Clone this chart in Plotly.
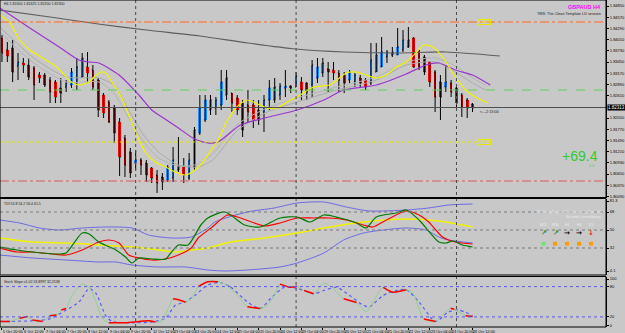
import plotly.graph_objects as go

# ---------------- price data (GBPAUD H4, bar index 0 = 5 Oct 20:00) ----------------
bar_index = list(range(89))
opens = [1.8405, 1.8375, 1.838, 1.8335, 1.83425, 1.83375, 1.833, 1.83125, 1.83125, 1.83,
         1.8295, 1.828, 1.82825, 1.82875, 1.82925, 1.83075, 1.83325, 1.8325, 1.83, 1.82625,
         1.8245, 1.823, 1.8195, 1.8155, 1.812, 1.80925, 1.81, 1.80925, 1.808, 1.80625,
         1.80575, 1.805, 1.8055, 1.8075, 1.80825, 1.8055, 1.80825, 1.81675, 1.82, 1.8225,
         1.823, 1.82375, 1.82625, 1.82675, 1.8255, 1.82425, 1.82375, 1.82375, 1.8225, 1.822,
         1.825, 1.825, 1.82625, 1.828, 1.8285, 1.82825, 1.8295, 1.82925, 1.82875, 1.8305,
         1.83175, 1.83275, 1.8325, 1.83175, 1.83125, 1.83, 1.8295, 1.8305, 1.83, 1.82925,
         1.832, 1.83325, 1.83575, 1.83625, 1.83625, 1.8375, 1.83825, 1.8405, 1.8375, 1.83575,
         1.8345, 1.832, 1.8295, 1.82825, 1.82925, 1.828, 1.82625, 1.825, 1.824]
highs = [1.84125, 1.8395, 1.84, 1.83675, 1.8355, 1.8355, 1.8335, 1.832, 1.83175, 1.83075,
         1.83, 1.8305, 1.83, 1.833, 1.8355, 1.83675, 1.837, 1.83375, 1.8305, 1.82675,
         1.825, 1.82375, 1.8205, 1.81625, 1.813, 1.8125, 1.8105, 1.81, 1.80825, 1.8075,
         1.80675, 1.80875, 1.81325, 1.81575, 1.8105, 1.81175, 1.81825, 1.82625, 1.82625, 1.82625,
         1.82575, 1.8325, 1.8325, 1.82675, 1.82625, 1.825, 1.8275, 1.825, 1.825, 1.82625,
         1.83, 1.8305, 1.82925, 1.8325, 1.82875, 1.832, 1.83075, 1.8295, 1.835, 1.8355,
         1.8355, 1.8345, 1.8345, 1.8325, 1.832, 1.8325, 1.83175, 1.83125, 1.8305, 1.83925,
         1.83925, 1.84075, 1.8375, 1.83825, 1.843, 1.8425, 1.84325, 1.84075, 1.8375, 1.83625,
         1.8345, 1.8325, 1.83125, 1.83375, 1.83, 1.82825, 1.82675, 1.8255, 1.82425]
lows = [1.8345, 1.8345, 1.8295, 1.83, 1.83175, 1.83, 1.825, 1.82925, 1.82825, 1.82425,
        1.82425, 1.82425, 1.827, 1.828, 1.8275, 1.8305, 1.82925, 1.8275, 1.82075, 1.8205,
        1.81925, 1.81425, 1.806, 1.80575, 1.8055, 1.8075, 1.80625, 1.8045, 1.80425, 1.80175,
        1.8025, 1.8045, 1.8045, 1.807, 1.80425, 1.805, 1.8075, 1.81625, 1.8195, 1.82125,
        1.82125, 1.8225, 1.825, 1.822, 1.82125, 1.81575, 1.81925, 1.818, 1.81875, 1.817,
        1.8225, 1.82425, 1.825, 1.82575, 1.82675, 1.82825, 1.825, 1.825, 1.82575, 1.82925,
        1.83075, 1.827, 1.83, 1.827, 1.82675, 1.82925, 1.82825, 1.828, 1.8275, 1.82875,
        1.832, 1.83325, 1.83425, 1.83575, 1.83625, 1.837, 1.838, 1.833, 1.8325, 1.83125,
        1.82825, 1.822, 1.82, 1.827, 1.82575, 1.8225, 1.82075, 1.8205, 1.822]
closes = [1.83675, 1.836, 1.832, 1.8345, 1.83375, 1.83075, 1.82875, 1.8305, 1.82875, 1.827,
          1.82575, 1.82675, 1.82925, 1.832, 1.83325, 1.8355, 1.83175, 1.82825, 1.8225, 1.82175,
          1.8195, 1.81675, 1.81075, 1.80875, 1.80675, 1.81, 1.80875, 1.80625, 1.8055, 1.80425,
          1.8045, 1.808, 1.81, 1.8085, 1.80625, 1.81, 1.8175, 1.823, 1.825, 1.825,
          1.825, 1.8295, 1.8305, 1.82425, 1.8225, 1.8175, 1.822, 1.82, 1.82, 1.825,
          1.828, 1.82825, 1.8285, 1.8285, 1.828, 1.831, 1.8275, 1.827, 1.83375, 1.83325,
          1.83425, 1.832, 1.83175, 1.83, 1.82925, 1.832, 1.83125, 1.82925, 1.82825, 1.835,
          1.83625, 1.837, 1.837, 1.837, 1.83825, 1.84, 1.84, 1.83325, 1.83325, 1.832,
          1.8295, 1.82575, 1.82575, 1.8295, 1.827, 1.82425, 1.82325, 1.823, 1.823]

date_label_index = list(range(0, 89, 4))
date_labels = ["5 Oct 20:00", "6 Oct 12:00", "7 Oct 04:00", "7 Oct 20:00", "8 Oct 12:00",
               "9 Oct 04:00", "9 Oct 20:00", "12 Oct 12:00", "13 Oct 04:00", "13 Oct 20:00",
               "14 Oct 12:00", "15 Oct 04:00", "15 Oct 20:00", "16 Oct 12:00", "19 Oct 04:00",
               "19 Oct 20:00", "20 Oct 12:00", "21 Oct 04:00", "21 Oct 20:00", "22 Oct 12:00",
               "23 Oct 04:00", "23 Oct 20:00", "26 Oct 12:00"]
week_start_index = [25, 55, 85]

price_ticks = [1.8485, 1.8457, 1.8429, 1.8401, 1.8373, 1.8345, 1.8317, 1.8289, 1.8261,
               1.8205, 1.8177, 1.8149, 1.8121, 1.8093, 1.8065, 1.8037, 1.8009]

# moving averages (bar index, price)
ma_slow = [(-0.4, 1.8475), (9, 1.84575), (18, 1.844), (27, 1.8425), (37, 1.841), (46, 1.83925),
           (55, 1.83775), (64, 1.837), (74, 1.83675), (83, 1.837), (93.1, 1.836)]
ma_mid = [(-0.4, 1.848), (5.2, 1.843), (10.7, 1.83825), (14.4, 1.835), (16.3, 1.8345), (18.1, 1.83425),
          (21.9, 1.83125), (25.6, 1.82625), (28.0, 1.8225), (30.2, 1.8205), (33.0, 1.818), (35.7, 1.8155),
          (38.5, 1.81425), (40.4, 1.8145), (44.6, 1.81875), (49.1, 1.8205), (55.2, 1.8225), (60.2, 1.825),
          (63.9, 1.8275), (70.0, 1.82875), (75.6, 1.8315), (79.3, 1.83375), (81.7, 1.83425),
          (84.8, 1.8325), (88.0, 1.83125), (91.3, 1.82875)]
ma_fast = [(-0.4, 1.84625), (1.5, 1.84425), (3.3, 1.84), (5.2, 1.8375), (7.6, 1.8355), (10.2, 1.83325),
           (11.7, 1.83125), (13.0, 1.8295), (14.4, 1.82875), (16.3, 1.8295), (17.6, 1.83125), (18.5, 1.832),
           (19.4, 1.83175), (20.9, 1.82875), (22.4, 1.8255), (23.7, 1.82125), (25.0, 1.817), (26.9, 1.81175),
           (28.7, 1.8095), (30.6, 1.80825), (32.4, 1.807), (34.3, 1.80625), (36.1, 1.8075), (37.6, 1.8095),
           (38.9, 1.812), (40.4, 1.815), (42.2, 1.82), (44.1, 1.8235), (45.9, 1.825), (47.8, 1.824),
           (49.6, 1.823), (51.5, 1.823), (53.3, 1.8245), (55.2, 1.82575), (58.3, 1.82825), (61.3, 1.82875),
           (64.4, 1.83175), (66.3, 1.832), (68.1, 1.83125), (70.0, 1.8305), (71.9, 1.83125), (73.7, 1.83325),
           (75.6, 1.8345), (77.4, 1.83675), (78.9, 1.83875), (80.6, 1.83825), (82.4, 1.83575),
           (84.8, 1.83075), (86.7, 1.8275), (88.5, 1.82575), (90.9, 1.82425)]
band_a = [(-0.4, 1.84325), (5.7, 1.83575), (12.0, 1.83075), (18.1, 1.8305), (20.9, 1.82875), (23.7, 1.8225),
          (26.5, 1.81625), (29.3, 1.812), (33.0, 1.80875), (36.7, 1.80825), (39.4, 1.81), (44.1, 1.8175),
          (49.6, 1.822), (55.2, 1.8245), (62.6, 1.8275), (70.0, 1.83), (75.6, 1.83375), (81.1, 1.8345),
          (84.8, 1.832), (88.0, 1.82925), (90.4, 1.8275)]
band_b = [(-0.4, 1.842), (5.7, 1.8345), (12.0, 1.8295), (18.1, 1.8295), (20.9, 1.82675), (23.7, 1.8205),
          (26.5, 1.8145), (29.3, 1.8105), (33.0, 1.8085), (36.7, 1.809), (39.4, 1.8115), (44.1, 1.819),
          (49.6, 1.823), (55.2, 1.8255), (62.6, 1.82825), (70.0, 1.83075), (75.6, 1.8345), (81.1, 1.8355),
          (84.8, 1.8335), (88.0, 1.8305), (90.4, 1.82875)]

# horizontal levels
resistance_level = 1.8445
pivot_level = 1.8275
bid_price = 1.823125
support_level = 1.8145
low_level = 1.80475

# TDI (bar index, value)
tdi_upper = [(-0.4, 60), (3.3, 57), (7.0, 52), (10.7, 50), (15.0, 52), (19.4, 53), (24.3, 52), (27.4, 45),
             (31.7, 42), (35.4, 43), (38.5, 52), (39.8, 58), (45.9, 68), (50.9, 72), (55.2, 77), (60.2, 78),
             (64.4, 73), (68.7, 69), (75.6, 70), (79.8, 72), (83.5, 75), (88.0, 76)]
tdi_lower = [(-0.4, 25), (5.7, 22), (12.0, 20), (18.1, 18), (21.3, 18), (24.3, 15), (29.3, 13), (34.3, 13),
             (38.5, 10), (41.7, 9), (45.9, 10), (52.0, 13), (55.2, 17), (60.2, 27), (63.9, 40), (67.6, 47),
             (71.3, 50), (75.6, 52), (79.3, 50), (81.7, 43), (83.5, 40), (88.0, 37)]
tdi_base = [(-0.4, 42), (5.7, 38), (12.0, 37), (18.1, 35), (24.3, 33), (29.3, 30), (32.4, 28), (35.4, 30),
            (38.5, 32), (42.8, 38), (49.1, 42), (55.2, 47), (61.3, 53), (67.6, 58), (75.6, 61), (81.7, 59),
            (88.0, 53)]
tdi_signal = [(-0.4, 32), (2.8, 28), (5.7, 28), (9.4, 26), (12.0, 25), (15.0, 30), (18.1, 38), (20.0, 40),
              (21.9, 37), (23.7, 25), (25.6, 22), (28.0, 20), (30.6, 21), (33.0, 25), (35.4, 32), (36.7, 42),
              (39.1, 52), (42.2, 65), (44.6, 62), (49.1, 54), (52.0, 57), (55.2, 62), (58.3, 62), (61.3, 62),
              (64.4, 60), (67.6, 55), (69.4, 53), (71.9, 60), (75.6, 69), (78.0, 65), (79.8, 58), (82.4, 43),
              (84.8, 38), (88.0, 36)]
tdi_rsi = [(-0.4, 33), (2.8, 30), (5.7, 28), (10.7, 26), (12.0, 27), (15.0, 47), (16.3, 46), (18.1, 38),
           (21.3, 30), (23.1, 23), (24.3, 17), (25.6, 22), (28.0, 21), (30.6, 21), (31.7, 28), (33.0, 35),
           (34.8, 35), (37.2, 55), (38.5, 62), (41.7, 68), (45.4, 55), (48.3, 53), (52.0, 62), (55.2, 63),
           (57.6, 58), (60.2, 65), (63.2, 62), (66.3, 57), (68.1, 52), (70.0, 63), (73.7, 67), (75.6, 70),
           (78.0, 60), (81.7, 38), (83.0, 37), (84.3, 39), (86.1, 35), (88.0, 33)]
tdi_levels = [68, 50, 32]

# Stoch slope (bar index, value)
stoch_main = [(-0.4, 11), (1.5, 11), (3.3, 17.5), (4.8, 20.6), (5.7, 14), (7.6, 11), (8.9, 22.5), (10.2, 24),
              (11.1, 33.6), (12.0, 36.8), (13.1, 62.6), (15.0, 85), (16.3, 78.7), (17.6, 49.6), (18.7, 18),
              (20.0, 8.4), (23.1, 8.4), (25.6, 11), (27.4, 12.3), (28.7, 9.8), (29.8, 11), (31.1, 36.8),
              (32.0, 56), (33.0, 54), (34.3, 49.6), (35.4, 56), (36.7, 80), (38.5, 89.7), (40.4, 89.7),
              (41.7, 85), (44.1, 62.6), (45.9, 40), (48.3, 36.8), (49.6, 43), (50.9, 62.6), (52.0, 85),
              (53.9, 78.7), (55.2, 80.6), (56.5, 72.3), (58.3, 66), (60.2, 87), (62.0, 75.5), (63.9, 56),
              (66.3, 48.5), (68.1, 30.3), (69.4, 49.6), (71.3, 78.7), (73.1, 69), (75.6, 73.6), (76.9, 66.5),
              (78.9, 16), (81.1, 11), (82.4, 24), (83.9, 37), (85.4, 30), (86.7, 22.5), (88.0, 20.6)]
stoch_signal = [(-0.4, 11), (5.7, 12.3), (8.9, 16), (12.0, 33.6), (14.4, 49.6), (16.3, 76), (17.6, 66),
                (19.4, 22.5), (20.6, 11), (24.3, 8.4), (28.0, 9.8), (30.6, 17.5), (32.4, 43), (34.3, 49.6),
                (36.1, 62.6), (38.5, 83), (40.9, 88), (42.8, 78.7), (45.9, 49.6), (48.3, 36.8), (50.2, 56),
                (52.8, 78.7), (55.2, 76.8), (58.3, 66), (60.2, 72.3), (62.6, 78.7), (65.0, 62.6), (67.6, 43),
                (68.7, 40), (71.3, 62.6), (73.7, 72.3), (75.6, 74), (78.0, 49.6), (81.1, 11), (83.5, 30),
                (85.4, 33.6), (88.0, 22.5)]
stoch_red_segments = [
    [(-0.4, 11), (1.5, 11)], [(3.3, 17.5), (4.8, 20.6)], [(5.7, 14), (7.6, 11)], [(8.9, 22.5), (10.2, 24)],
    [(11.1, 33.6), (12.0, 36.8)], [(20.0, 8.4), (23.1, 8.4), (25.6, 11), (27.4, 12.3), (28.7, 9.8)],
    [(32.0, 56), (33.0, 54), (34.3, 49.6)], [(36.7, 80), (38.5, 89.7), (40.4, 89.7)],
    [(45.9, 40), (48.3, 36.8)], [(52.0, 85), (53.9, 78.7), (55.2, 80.6)], [(56.5, 72.3), (58.3, 66)],
    [(63.9, 56), (66.3, 48.5)], [(71.3, 78.7), (73.1, 69), (75.6, 73.6)], [(78.9, 16), (81.1, 11)],
    [(83.9, 37), (84.6, 35)], [(86.7, 22.5), (88.0, 20.6)]]
stoch_levels = [80, 20]

tf_names = ["M15", "M30", "H1", "H4", "D1"]
tf_arrows = ["↗", "↗", "→", "→", "↓"]
tf_arrow_colors = ["#1d8a1d", "#1d8a1d", "#000000", "#000000", "#ff1010"]
tf_square_colors = ["#6fe36f", "#ff9a00", "#ff9a00", "#ff9a00", "#ff9a00"]

# ---------------- styling / layout helpers ----------------
BG = "#c8c8c8"
FONT = "Liberation Sans"
W_PLOT, H_PLOT = 612.0, 327.0


def px_x(x):
    return x / W_PLOT


def px_y(y):
    return (H_PLOT - y) / H_PLOT


def unzip(pairs):
    return [p[0] for p in pairs], [p[1] for p in pairs]


main_dom = [px_y(197.5), 1.0]
tdi_dom = [px_y(275), px_y(198.5)]
sto_dom = [0.0, px_y(276.5)]

fig = go.Figure()

# candle bodies (Heiken-Ashi style coloured bodies)
body_base = [min(o, c) for o, c in zip(opens, closes)]
body_h = [abs(c - o) for o, c in zip(opens, closes)]
body_col = ["#1e90ff" if c > o else "#ff0000" for o, c in zip(opens, closes)]


def add_line(pairs, color, width, axis, dash=None, smooth=True):
    x, y = unzip(pairs)
    line = dict(color=color, width=width)
    if dash:
        line["dash"] = dash
    if smooth:
        line["shape"] = "spline"
        line["smoothing"] = 0.7
    fig.add_trace(go.Scatter(x=x, y=y, mode="lines", line=line, yaxis=axis, hoverinfo="skip"))


add_line(band_b, "#b4b4b4", 1, "y")
add_line(band_a, "#aaaaaa", 1, "y")
add_line(ma_slow, "#5e5e5e", 1.2, "y")
add_line(ma_mid, "#9a36d0", 1.2, "y")
add_line(ma_fast, "#f2f200", 1.2, "y")

fig.add_trace(go.Bar(x=bar_index, base=body_base, y=body_h, width=0.5,
                     marker=dict(color=body_col, line=dict(width=0)), yaxis="y", hoverinfo="skip"))
fig.add_trace(go.Ohlc(x=bar_index, open=opens, high=highs, low=lows, close=closes,
                      increasing=dict(line=dict(color="#000000", width=1)),
                      decreasing=dict(line=dict(color="#000000", width=1)),
                      tickwidth=0.2, yaxis="y", hoverinfo="skip"))

# TDI
add_line(tdi_upper, "#6a6ae6", 1, "y2")
add_line(tdi_lower, "#6a6ae6", 1, "y2")
add_line(tdi_base, "#f2f200", 1.5, "y2")
add_line(tdi_signal, "#ff0000", 1.2, "y2")
add_line(tdi_rsi, "#007a00", 1.2, "y2")

# Stoch
add_line(stoch_signal, "#5a5af0", 1.2, "y3", dash="dot")
add_line(stoch_main, "#8fcf8f", 1, "y3")
for seg in stoch_red_segments:
    add_line(seg, "#ff0000", 1.5, "y3")

shapes = []
shapes.append(dict(type="line", xref="paper", x0=0, x1=1, yref="y", y0=resistance_level, y1=resistance_level,
                   line=dict(color="#ff6a1e", width=1, dash="dashdot")))
shapes.append(dict(type="line", xref="paper", x0=0, x1=1, yref="y", y0=pivot_level, y1=pivot_level,
                   line=dict(color="#5fcf5f", width=1, dash="dash")))
shapes.append(dict(type="line", xref="paper", x0=0, x1=1, yref="y", y0=bid_price, y1=bid_price,
                   line=dict(color="#4e4e4e", width=1)))
shapes.append(dict(type="line", xref="x", x0=-0.4, x1=88.9, yref="y", y0=support_level, y1=support_level,
                   line=dict(color="#e8e800", width=1, dash="dot")))
shapes.append(dict(type="line", xref="paper", x0=0, x1=1, yref="y", y0=low_level, y1=low_level,
                   line=dict(color="#d85c5c", width=1, dash="dashdot")))
for lv in tdi_levels:
    shapes.append(dict(type="line", xref="paper", x0=0, x1=1, yref="y2", y0=lv, y1=lv,
                       line=dict(color="#7a7a7a", width=1, dash="dot")))
for lv in stoch_levels:
    shapes.append(dict(type="line", xref="paper", x0=0, x1=1, yref="y3", y0=lv, y1=lv,
                       line=dict(color="#5a5af0", width=1, dash="dot")))
for wi in week_start_index:
    shapes.append(dict(type="line", xref="x", x0=wi, x1=wi, yref="paper", y0=0, y1=1,
                       line=dict(color="#4a4a4a", width=1, dash="dot")))
for dom in (main_dom, tdi_dom, sto_dom):
    shapes.append(dict(type="rect", xref="paper", x0=0, x1=1, yref="paper", y0=dom[0], y1=dom[1],
                       line=dict(color="#000000", width=1), layer="above"))

ann = []
for idx, lab in zip(date_label_index, date_labels):
    ann.append(dict(x=idx - 0.2, xref="x", y=0, yref="paper", yanchor="top", xanchor="left", yshift=-1,
                    text=lab, showarrow=False, font=dict(size=3.8, color="#000000", family=FONT)))

ann += [
    dict(x=px_x(2), y=px_y(0), xref="paper", yref="paper", xanchor="left", yanchor="top",
         text="H4 1.82400 1.82425 1.82200 1.82300", showarrow=False,
         font=dict(size=3.6, color="#1a1a1a", family=FONT)),
    dict(x=px_x(609), y=px_y(2), xref="paper", yref="paper", xanchor="right", yanchor="top",
         text="<b>GBPAUD H4</b>", showarrow=False, font=dict(size=5.5, color="#ff00ff", family=FONT)),
    dict(x=px_x(609), y=px_y(9.5), xref="paper", yref="paper", xanchor="right", yanchor="top",
         text="TMS: The Clean Template LD session", showarrow=False,
         font=dict(size=3.8, color="#202020", family=FONT)),
    dict(x=px_x(606), y=px_y(156), xref="paper", yref="paper", xanchor="right", yanchor="middle",
         text="+69.4", showarrow=False, font=dict(size=14, color="#2fcb2f", family=FONT)),
    dict(x=px_x(602), y=px_y(166), xref="paper", yref="paper", xanchor="right", yanchor="middle",
         text="0.0", showarrow=False, font=dict(size=3.8, color="#5cc85c", family=FONT)),
    dict(x=89, xref="x", y=bid_price - 0.001, yref="y", xanchor="left", yanchor="middle",
         text="<---2:13:04", showarrow=False, font=dict(size=3.8, color="#202020", family=FONT)),
    dict(x=88.9, xref="x", y=resistance_level, yref="y", xanchor="left", yanchor="middle",
         text="%.5f" % resistance_level, showarrow=False, bordercolor="#e8e800", borderwidth=1, borderpad=0,
         font=dict(size=3.3, color="#e8e800", family=FONT)),
    dict(x=88.9, xref="x", y=support_level, yref="y", xanchor="left", yanchor="middle",
         text="%.5f" % support_level, showarrow=False, bordercolor="#e8e800", borderwidth=1, borderpad=0,
         font=dict(size=3.3, color="#e8e800", family=FONT)),
    dict(x=1, xref="paper", y=bid_price, yref="y", xanchor="left", yanchor="middle", xshift=1,
         text="%.5f" % bid_price, showarrow=False, bgcolor="#000000", borderpad=0,
         font=dict(size=4.5, color="#ffffff", family=FONT)),
    dict(x=px_x(2), y=px_y(200), xref="paper", yref="paper", xanchor="left", yanchor="top",
         text="TDI 53.8 54.2 56.4 61.5", showarrow=False, font=dict(size=3.5, color="#1a1a1a", family=FONT)),
    dict(x=px_x(609), y=px_y(208), xref="paper", yref="paper", xanchor="right", yanchor="top",
         text="TDI Rising Angle: -26°, Green: 1.1, Red: -4.0", showarrow=False,
         font=dict(size=3.3, color="#ececec", family=FONT)),
    dict(x=px_x(609), y=px_y(213), xref="paper", yref="paper", xanchor="right", yanchor="top",
         text="No trend / consolidating", showarrow=False, font=dict(size=3.3, color="#ececec", family=FONT)),
    dict(x=px_x(2), y=px_y(278), xref="paper", yref="paper", xanchor="left", yanchor="top",
         text="Stoch Slope v1.02 53.8997 32.2538", showarrow=False,
         font=dict(size=3.5, color="#1a1a1a", family=FONT)),
]
tf_x = [549, 561, 573, 585, 597]
for xx, nm, ar, ac, sc in zip(tf_x, tf_names, tf_arrows, tf_arrow_colors, tf_square_colors):
    ann.append(dict(x=px_x(xx), y=px_y(225), xref="paper", yref="paper", xanchor="center", yanchor="middle",
                    text=nm, showarrow=False, font=dict(size=3.5, color="#ececec", family=FONT)))
    ann.append(dict(x=px_x(xx), y=px_y(232.5), xref="paper", yref="paper", xanchor="center", yanchor="middle",
                    text="<b>%s</b>" % ar, showarrow=False, font=dict(size=7, color=ac, family="DejaVu Sans")))
    ann.append(dict(x=px_x(xx), y=px_y(242.5), xref="paper", yref="paper", xanchor="center", yanchor="middle",
                    text="■", showarrow=False, font=dict(size=5, color=sc, family="DejaVu Sans")))

axis_common = dict(side="right", showgrid=False, zeroline=False, ticks="outside", ticklen=2, tickcolor="#000000",
                   showline=True, linecolor="#000000", linewidth=1, anchor="x",
                   tickfont=dict(size=4, color="#000000", family=FONT))

fig.update_layout(
    width=625, height=333,
    margin=dict(l=0, r=13, t=0, b=6),
    paper_bgcolor=BG, plot_bgcolor=BG,
    showlegend=False, hovermode=False, bargap=0,
    xaxis=dict(range=[-0.37, 112.96], showgrid=False, zeroline=False, showticklabels=False,
               ticks="outside", ticklen=2, tickcolor="#000000", tickvals=date_label_index,
               rangeslider=dict(visible=False), anchor="y3", showline=False),
    yaxis=dict(domain=main_dom, range=[1.800625, 1.85], tickvals=price_ticks,
               ticktext=["%.5f" % p for p in price_ticks], **axis_common),
    yaxis2=dict(domain=tdi_dom, range=[5, 81.5], tickvals=[79, 68, 50, 32, 9],
                ticktext=["81.3", "68", "50", "32", "4.1"], **axis_common),
    yaxis3=dict(domain=sto_dom, range=[0, 100], tickvals=[95, 80, 20, 3],
                ticktext=["100", "80", "20", "0"], **axis_common),
    shapes=shapes,
    annotations=ann,
)

fig.write_html("out.html")
